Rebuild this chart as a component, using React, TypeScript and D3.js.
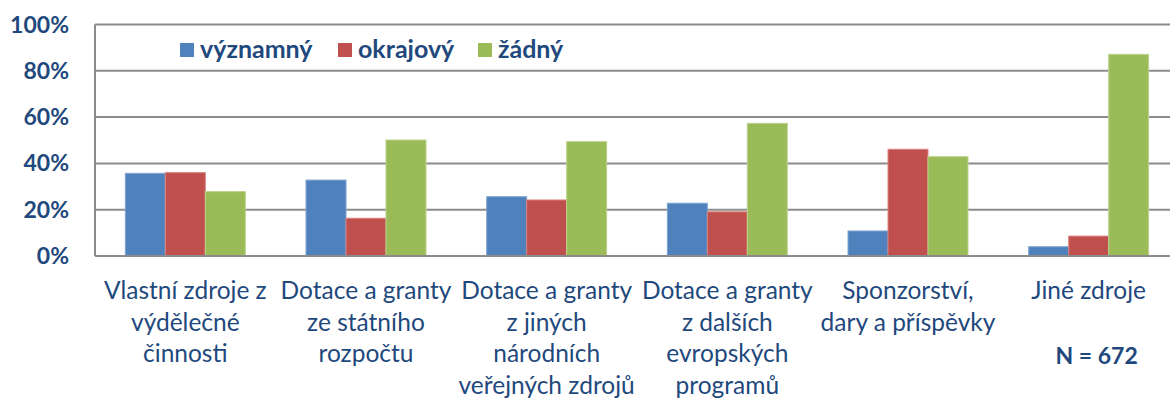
import React from "react";
import * as d3 from "d3";

const categories: string[][] = [
  ["Vlastní zdroje z", "výdělečné", "činnosti"],
  ["Dotace a granty", "ze státního", "rozpočtu"],
  ["Dotace a granty", "z jiných", "národních", "veřejných zdrojů"],
  ["Dotace a granty", "z dalších", "evropských", "programů"],
  ["Sponzorství,", "dary a příspěvky"],
  ["Jiné zdroje"],
];
const seriesNames = ["významný", "okrajový", "žádný"];
const vyznamny = [35.7, 32.8, 25.6, 22.8, 10.8, 4.0];
const okrajovy = [36.0, 16.3, 24.2, 19.1, 46.1, 8.6];
const zadny = [27.8, 50.1, 49.4, 57.3, 42.9, 87.1];
const yTicks = [0, 20, 40, 60, 80, 100];
const note = "N = 672";

const colors = ["#4F81BD", "#C0504D", "#9BBB59"];
const strokes = ["#7FA3D0", "#D98381", "#BBD38A"];
const textColor = "#1F497D";
const font = "Lato, 'Open Sans', sans-serif";

export default function App() {
  const W = 1170, H = 401;
  const left = 95, right = 1179, top = 24.5, bottom = 256;
  const series = [vyznamny, okrajovy, zadny];
  const idx = categories.map((_, i) => i);
  const x = d3.scaleBand<number>().domain(idx).range([left, right]).paddingInner(0.336).paddingOuter(0.168);
  const xs = d3.scaleBand<number>().domain([0, 1, 2]).range([0, x.bandwidth()]);
  const y = d3.scaleLinear().domain([0, 100]).range([bottom, top]);

  const legendX = [180, 338, 478];

  return (
    <svg width={W} height={H} style={{ position: "absolute", left: 0, top: 0 }} fontFamily={font}>
      <rect width={W} height={H} fill="#fff" />
      {yTicks.map((t) => (
        <g key={t}>
          <line x1={left} x2={W} y1={y(t)} y2={y(t)} stroke="#8C8C8C" strokeWidth={2} />
          <text x={69} y={y(t) + 8} textAnchor="end" fontWeight="bold" fontSize={23} fill={textColor}>
            {t}%
          </text>
        </g>
      ))}
      <line x1={left} x2={left} y1={top} y2={bottom} stroke="#8C8C8C" strokeWidth={2} />
      {idx.map((i) =>
        series.map((s, k) => (
          <rect
            key={`${i}-${k}`}
            x={(x(i) as number) + (xs(k) as number)}
            y={y(s[i])}
            width={xs.bandwidth()}
            height={y(0) - y(s[i])}
            fill={colors[k]}
            stroke={strokes[k]}
            strokeWidth={1}
          />
        ))
      )}
      <line x1={left} x2={W} y1={bottom} y2={bottom} stroke="#8C8C8C" strokeWidth={2} />
      {categories.map((lines, i) => (
        <text key={i} textAnchor="middle" fontSize={24.5} fill={textColor}>
          {lines.map((l, j) => (
            <tspan key={j} x={(x(i) as number) + x.bandwidth() / 2} y={299 + j * 31.5}>
              {l}
            </tspan>
          ))}
        </text>
      ))}
      <text x={(x(5) as number) + x.bandwidth() / 2 + 8} y={364} textAnchor="middle" fontWeight="bold" fontSize={23} fill={textColor}>
        {note}
      </text>
      {seriesNames.map((n, k) => (
        <g key={n}>
          <rect x={legendX[k]} y={43} width={14} height={14} fill={colors[k]} />
          <text x={legendX[k] + 20} y={58} fontWeight="bold" fontSize={25} fill={textColor}>
            {n}
          </text>
        </g>
      ))}
    </svg>
  );
}
